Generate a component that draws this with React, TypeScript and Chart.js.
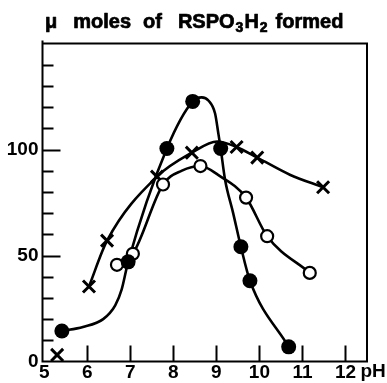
import { useEffect, useRef } from 'react';
import { Chart, registerables } from 'chart.js';

Chart.register(...registerables);

// title pieces: [text, isSubscript]
const TITLE_PARTS: [string, boolean][] = [
  ['μ', false],
  ['moles', false],
  ['of', false],
  ['RSPO', false],
  ['3', true],
  ['H', false],
  ['2', true],
  ['formed', false],
];
const X_UNIT = 'pH';

// axis ticks
const X_TICKS = [5, 6, 7, 8, 9, 10, 11, 12];
const X_TICK_MARKS = [6, 7, 8, 9, 10, 11, 12];
const Y_LABELS = [0, 50, 100];
const Y_TICK_MARKS = [10, 20, 30, 40, 50, 60, 70, 80, 90, 100, 110, 120, 130, 140];
const Y_MAJOR_MARKS = [50, 100];

// measured points (filled circles)
const FILLED_X = [5.41, 6.95, 7.85, 8.45, 9.1, 9.57, 9.78, 10.68];
const FILLED_Y = [14.4, 47, 100.5, 122.7, 100.5, 54.1, 38.1, 6.9];
// open circles
const OPEN_X = [6.69, 7.06, 7.76, 8.63, 9.69, 10.18, 11.17];
const OPEN_Y = [45.6, 50.8, 83.5, 92.2, 77.3, 59.1, 41.8];
// crosses
const CROSS_X = [5.3, 6.04, 6.46, 7.62, 8.43, 9.47, 9.95, 11.48];
const CROSS_Y = [3.1, 35.4, 57, 87.2, 98.5, 101.2, 96.2, 82.2];

// hand-drawn fitted curves
const FILLED_CURVE_X = [5.41, 5.9, 6.37, 6.65, 6.8, 6.95, 7.85, 8.45, 8.66, 8.82, 8.97, 9.05, 9.1, 9.2, 9.39, 9.57, 9.78, 10.68];
const FILLED_CURVE_Y = [14.4, 16.3, 20, 26.5, 34, 47, 100.5, 122.7, 124.6, 123, 117, 107, 100.5, 86, 70, 54.1, 38.1, 6.9];
const OPEN_CURVE_X = [6.69, 7.06, 7.76, 8.2, 8.63, 9.04, 9.69, 10.18, 11.17];
const OPEN_CURVE_Y = [45.6, 50.8, 83.5, 90, 92.2, 88, 77.3, 59.1, 41.8];
const CROSS_CURVE_X = [6.04, 6.46, 7.62, 8.43, 9.02, 9.47, 9.95, 10.72, 11.48];
const CROSS_CURVE_Y = [35.4, 57, 87.2, 98.5, 103.8, 101.2, 96.2, 88, 82.2];

const pairs = (xs: number[], ys: number[]) => xs.map((x, i) => ({ x, y: ys[i] }));

const FAMILY = "'Liberation Sans', Arial, sans-serif";
const TICK_FONT = { family: FAMILY, size: 19, weight: 'bold' as const };

// gap (px) placed before each title piece (layout only)
const TITLE_GAPS = [0, 16, 12, 16, 1, 1, 1, 8];
const TITLE_LEFT = 45;

const framePlugin = {
  id: 'frame',
  beforeDatasetsDraw(chart: any) {
    const { ctx, chartArea, scales } = chart;
    const { left, right, top, bottom } = chartArea;
    const xs = scales.x;
    const ys = scales.y;
    ctx.save();
    ctx.strokeStyle = '#000';
    ctx.lineWidth = 2;
    ctx.beginPath();
    ctx.moveTo(left, top - 3);
    ctx.lineTo(left, bottom);
    ctx.lineTo(right, bottom);
    ctx.lineTo(right, top);
    ctx.lineTo(left, top);
    ctx.stroke();
    ctx.beginPath();
    for (const v of Y_TICK_MARKS) {
      const py = Math.round(ys.getPixelForValue(v)) + 0.5;
      const len = Y_MAJOR_MARKS.includes(v) ? 18 : 11;
      ctx.moveTo(left, py);
      ctx.lineTo(left + len, py);
    }
    for (const v of X_TICK_MARKS) {
      const px = Math.round(xs.getPixelForValue(v)) + 0.5;
      ctx.moveTo(px, bottom);
      ctx.lineTo(px, bottom - 16);
    }
    ctx.stroke();
    ctx.fillStyle = '#000';
    ctx.font = `bold ${TICK_FONT.size}px ${FAMILY}`;
    ctx.textBaseline = 'top';
    ctx.textAlign = 'left';
    ctx.fillText(X_UNIT, xs.getPixelForValue(12) + 15, bottom + 1);

    // title with real subscripts
    const base = 28;
    let x = TITLE_LEFT;
    ctx.textBaseline = 'alphabetic';
    ctx.textAlign = 'left';
    ctx.lineWidth = 0.7;
    ctx.lineJoin = 'round';
    TITLE_PARTS.forEach(([t, sub], i) => {
      x += TITLE_GAPS[i];
      ctx.font = sub ? `bold 14px ${FAMILY}` : `bold 20px ${FAMILY}`;
      const y = sub ? base + 4 : base;
      ctx.fillText(t, x, y);
      ctx.strokeText(t, x, y);
      x += ctx.measureText(t).width;
    });
    ctx.restore();
  },
};

export default function App() {
  const ref = useRef<HTMLCanvasElement | null>(null);
  useEffect(() => {
    if (!ref.current) return;
    const curve = (xs: number[], ys: number[]) => ({
      data: pairs(xs, ys),
      showLine: true,
      pointRadius: 0,
      borderColor: '#000',
      borderWidth: 2.6,
      cubicInterpolationMode: 'monotone',
      order: 2,
    });
    const chart = new Chart(ref.current, {
      type: 'scatter',
      data: {
        datasets: [
          curve(FILLED_CURVE_X, FILLED_CURVE_Y) as any,
          curve(OPEN_CURVE_X, OPEN_CURVE_Y) as any,
          curve(CROSS_CURVE_X, CROSS_CURVE_Y) as any,
          {
            data: pairs(FILLED_X, FILLED_Y),
            showLine: false,
            pointStyle: 'circle',
            pointRadius: 7.5,
            backgroundColor: '#000',
            borderColor: '#000',
            borderWidth: 0,
            order: 0,
            clip: false,
          } as any,
          {
            data: pairs(OPEN_X, OPEN_Y),
            showLine: false,
            pointStyle: 'circle',
            pointRadius: 6,
            backgroundColor: '#fff',
            borderColor: '#000',
            borderWidth: 2.2,
            order: 0,
            clip: false,
          } as any,
          {
            data: pairs(CROSS_X, CROSS_Y),
            showLine: false,
            pointStyle: 'crossRot',
            pointRadius: 8.5,
            borderColor: '#000',
            borderWidth: 3,
            order: 0,
            clip: false,
          } as any,
        ],
      },
      options: {
        animation: false,
        responsive: false,
        layout: { padding: { left: 0, right: 20, top: 43.5, bottom: 0 } },
        plugins: {
          legend: { display: false },
          tooltip: { enabled: false },
          title: { display: false },
        },
        scales: {
          x: {
            type: 'linear',
            min: 4.96,
            max: 12.5,
            afterBuildTicks: (s: any) => {
              s.ticks = X_TICKS.map((value) => ({ value }));
            },
            afterFit: (s: any) => {
              s.height = 21.5;
            },
            grid: { display: false, drawTicks: false },
            border: { display: false },
            ticks: { color: '#000', font: TICK_FONT, padding: 0, maxRotation: 0, autoSkip: false, callback: (v: any) => String(v) },
          },
          y: {
            type: 'linear',
            min: 0,
            max: 150,
            afterBuildTicks: (s: any) => {
              s.ticks = Y_LABELS.map((value) => ({ value }));
            },
            afterFit: (s: any) => {
              s.width = 42.5;
            },
            grid: { display: false, drawTicks: false },
            border: { display: false },
            ticks: { color: '#000', font: TICK_FONT, padding: 4, autoSkip: false, callback: (v: any) => String(v) },
          },
        },
      },
      plugins: [framePlugin],
    });
    return () => chart.destroy();
  }, []);
  return (
    <div style={{ position: 'absolute', left: 0, top: 0, width: 387, height: 383, background: '#fff' }}>
      <canvas ref={ref} width={387} height={383} style={{ display: 'block' }} />
    </div>
  );
}
